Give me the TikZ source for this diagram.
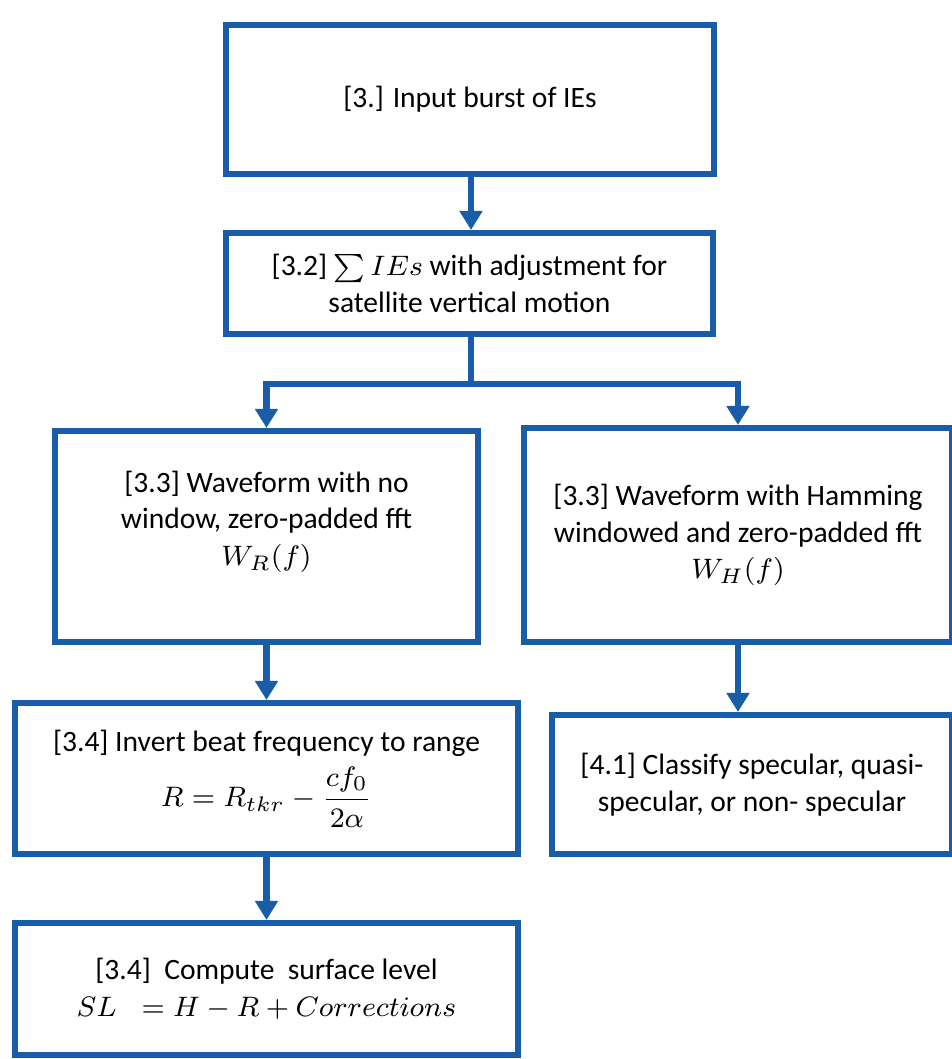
\documentclass[tikz,border=0pt]{standalone}
\usepackage{amsmath}
\usepackage{fontspec}
\setmainfont{Carlito}
\usepackage{tikz}
\usetikzlibrary{arrows.meta, positioning, calc}
\definecolor{flowblue}{RGB}{25,92,168}

\begin{document}
\begin{tikzpicture}[x=0.01cm, y=-0.01cm,
    box/.style={draw=flowblue, line width=0.06cm, fill=white, align=center,
                inner sep=0pt, font=\fontsize{8.4}{10.4}\selectfont},
    flow/.style={draw=flowblue, line width=0.06cm,
                 -{Triangle[width=0.22cm, length=0.19cm]}}]
            \useasboundingbox (0,0) rectangle (952,1059);
            \node[box, minimum width=4.88cm, minimum height=1.49cm] (input) at (470,99.5) {[3.] Input burst of IEs};
            \node[box, minimum width=4.87cm, minimum height=1.01cm] (sumie) at (469.5,283.5)
                {[3.2] $\textstyle\sum IEs$ with adjustment for\\satellite vertical motion};
            \node[box, minimum width=4.23cm, minimum height=2.11cm] (wfrect) at (266.5,536.5)
                {[3.3] Waveform with no\\window, zero-padded fft\\$W_R(f)$\\\mbox{}};
            \node[box, minimum width=4.28cm, minimum height=2.14cm] (wfham) at (738,535)
                {[3.3] Waveform with Hamming\\windowed and zero-padded fft\\$W_H(f)$};
            \node[box, minimum width=5.03cm, minimum height=1.51cm] (invert) at (266.5,778.5)
                {[3.4] Invert beat frequency to range\\[0.25em]$R = R_{tkr} - \dfrac{cf_0}{2\alpha}$};
            \node[box, minimum width=4.00cm, minimum height=1.39cm] (classify) at (752,784.5)
                {[4.1] Classify specular, quasi-\\specular, or non- specular};
            \node[box, minimum width=5.03cm, minimum height=1.32cm] (surface) at (266.5,989)
                {[3.4]\ \ Compute\ \ surface level\\$SL\;\;= H - R + Corrections$};
            % branching point below the sum box
            \coordinate (split) at (471,384);
            \draw[flow] (input.south -| split) -- (sumie.north -| split);
            \draw[draw=flowblue, line width=0.06cm] (sumie.south -| split) -- (split);
            \draw[flow] (split) -| (wfrect.north);
            \draw[flow] (split) -| (wfham.north);
            \foreach \a/\b in {wfrect/invert, wfham/classify, invert/surface} {
                \draw[flow] (\a.south) -- (\a.south |- \b.north);
            }
        \end{tikzpicture}
\end{document}
